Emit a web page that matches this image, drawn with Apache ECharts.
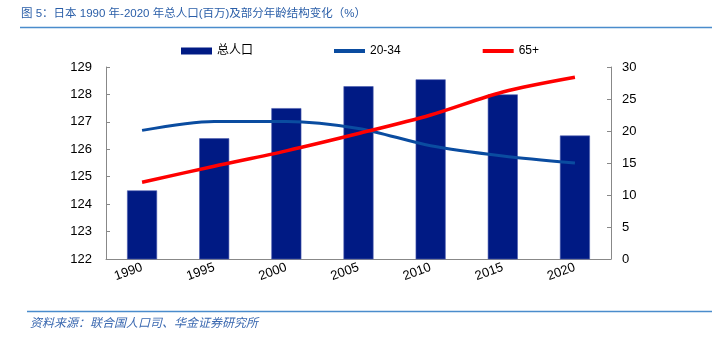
<!DOCTYPE html>
<html><head><meta charset="utf-8">
<script src="https://cdn.jsdelivr.net/npm/echarts@6/dist/echarts.min.js"></script>
<style>html,body{margin:0;padding:0;background:#fff}#c{width:712px;height:342px}</style>
</head><body><div id="c"></div>
<script>
const categories = ['1990','1995','2000','2005','2010','2015','2020'];
const totalPop = [124.5, 126.4, 127.5, 128.3, 128.55, 128.0, 126.5];
const age20to34 = [20.1, 21.5, 21.5, 20.4, 17.7, 16.1, 15.0];
const age65plus = [12.0, 14.5, 16.9, 19.6, 22.5, 26.1, 28.4];
const titleText = '图 5：日本 1990 年-2020 年总人口(百万)及部分年龄结构变化（%）';
const sourceText = '资料来源：联合国人口司、华金证券研究所';

const font = '"Liberation Sans", Arial, "Noto Sans CJK SC", sans-serif';
const legendText = {fontSize:12, color:'#000', fontFamily:'"Liberation Sans", "Noto Sans CJK SC", sans-serif'};
const chart = echarts.init(document.getElementById('c'), null, {renderer:'canvas'});
chart.setOption({
  animation:false,
  textStyle:{fontFamily:font},
  graphic:[
    {type:'text', left:21, top:8, style:{text:titleText, fill:'#2a5ea8', font:'11.5px "Liberation Sans", "Noto Sans CJK SC", sans-serif'}},
    {type:'line', shape:{x1:20,y1:27.5,x2:712,y2:27.5}, style:{stroke:'#4a8ccc', lineWidth:1.5}},
    {type:'line', shape:{x1:27,y1:311.5,x2:712,y2:311.5}, style:{stroke:'#4a8ccc', lineWidth:1.5}},
    {type:'text', left:30, top:316, style:{text:sourceText, fill:'#3a68b0', font:'italic 12px "Noto Sans CJK SC", sans-serif'}}
  ],
  legend:[
    {left:181, top:45, padding:0, itemWidth:31, itemHeight:7, textStyle:legendText,
     data:[{name:'总人口', icon:'rect', itemStyle:{borderWidth:0}}]},
    {left:334, top:45, padding:0, itemGap:82, itemWidth:31, itemHeight:4, textStyle:legendText,
     data:[{name:'20-34', icon:'rect'}, {name:'65+', icon:'rect'}]}
  ],
  grid:{left:106, right:101, top:67, bottom:83, containLabel:false},
  xAxis:{
    type:'category', data:categories, boundaryGap:true,
    axisLine:{lineStyle:{color:'#888'}},
    axisTick:{inside:true, length:4, lineStyle:{color:'#888'}},
    axisLabel:{rotate:20, fontSize:13, color:'#000', margin:8}
  },
  yAxis:[
    {type:'value', min:122, max:129, interval:1, position:'left',
     axisLine:{show:true, lineStyle:{color:'#888'}},
     axisTick:{show:true, inside:true, length:4, lineStyle:{color:'#888'}},
     splitLine:{show:false},
     axisLabel:{fontSize:13, color:'#000', margin:14}},
    {type:'value', min:0, max:30, interval:5, position:'right',
     axisLine:{show:true, lineStyle:{color:'#888'}},
     axisTick:{show:true, inside:true, length:4, lineStyle:{color:'#888'}},
     splitLine:{show:false},
     axisLabel:{fontSize:13, color:'#000', margin:11}}
  ],
  series:[
    {name:'总人口', type:'bar', yAxisIndex:0, data:totalPop, barWidth:30,
     itemStyle:{color:'#001a84', borderColor:'#4a5cb0', borderWidth:0.6}},
    {name:'20-34', type:'line', yAxisIndex:1, data:age20to34, smooth:0.3, symbol:'none',
     lineStyle:{color:'#0a4ca0', width:3}, itemStyle:{color:'#0a4ca0'}},
    {name:'65+', type:'line', yAxisIndex:1, data:age65plus, smooth:0.3, symbol:'none',
     lineStyle:{color:'#ff0000', width:3.5}, itemStyle:{color:'#ff0000'}}
  ]
});
</script></body></html>
